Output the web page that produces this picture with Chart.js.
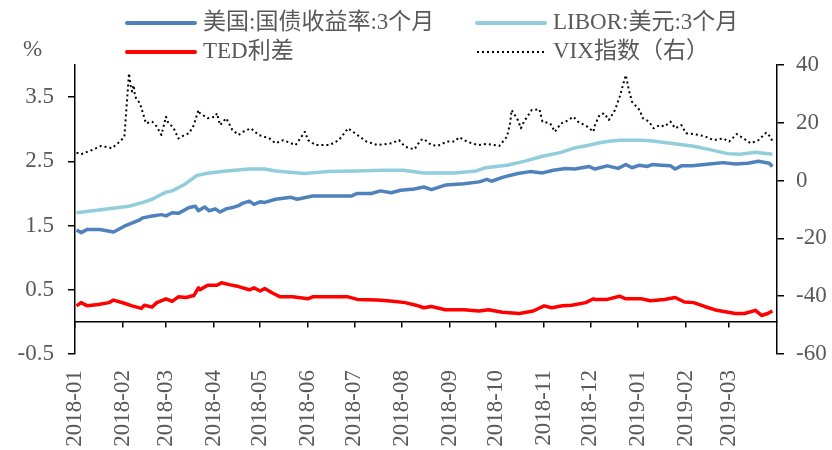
<!DOCTYPE html>
<html><head><meta charset="utf-8">
<script src="https://cdn.jsdelivr.net/npm/chart.js@4.4.1/dist/chart.umd.min.js"></script>
<style>html,body{margin:0;padding:0;background:#fff}#wrap{width:832px;height:450px}</style>
</head><body><div id="wrap"><canvas id="c" width="832" height="450"></canvas></div>
<script>
// ---- data ----
const monthLabels = ['2018-01','2018-02','2018-03','2018-04','2018-05','2018-06','2018-07','2018-08','2018-09','2018-10','2018-11','2018-12','2019-01','2019-02','2019-03'];
const leftTicks = [-0.5, 0.5, 1.5, 2.5, 3.5];
const rightTicks = [-60, -40, -20, 0, 20, 40];

const tsyDates = ['2018-01-02','2018-01-05','2018-01-09','2018-01-17','2018-01-26','2018-02-02','2018-02-12','2018-02-14','2018-02-20','2018-02-26','2018-03-01','2018-03-05','2018-03-09','2018-03-16','2018-03-20','2018-03-22','2018-03-26','2018-03-29','2018-04-02','2018-04-05','2018-04-09','2018-04-13','2018-04-17','2018-04-20','2018-04-24','2018-04-27','2018-05-01','2018-05-04','2018-05-11','2018-05-21','2018-05-25','2018-06-04','2018-06-14','2018-06-29','2018-07-03','2018-07-12','2018-07-18','2018-07-25','2018-07-31','2018-08-09','2018-08-15','2018-08-20','2018-08-29','2018-09-10','2018-09-20','2018-09-25','2018-09-28','2018-10-05','2018-10-15','2018-10-23','2018-10-31','2018-11-07','2018-11-15','2018-11-21','2018-11-30','2018-12-04','2018-12-12','2018-12-19','2018-12-24','2018-12-28','2019-01-02','2019-01-07','2019-01-10','2019-01-16','2019-01-22','2019-01-25','2019-01-29','2019-02-05','2019-02-13','2019-02-25','2019-03-05','2019-03-13','2019-03-20','2019-03-27','2019-03-29'];
const tsyValues = [1.43,1.39,1.44,1.44,1.40,1.49,1.59,1.62,1.65,1.67,1.65,1.70,1.69,1.78,1.80,1.73,1.79,1.73,1.76,1.71,1.76,1.78,1.81,1.85,1.88,1.83,1.87,1.86,1.91,1.94,1.91,1.96,1.96,1.96,2.00,2.00,2.04,2.01,2.05,2.07,2.10,2.06,2.13,2.15,2.18,2.22,2.19,2.25,2.31,2.34,2.32,2.36,2.39,2.38,2.42,2.38,2.43,2.39,2.45,2.40,2.44,2.42,2.45,2.44,2.43,2.38,2.43,2.43,2.45,2.48,2.46,2.47,2.50,2.47,2.42];

const liborDates = ['2018-01-02','2018-01-19','2018-02-05','2018-02-14','2018-02-20','2018-03-01','2018-03-05','2018-03-13','2018-03-21','2018-03-29','2018-04-09','2018-04-24','2018-05-04','2018-05-11','2018-05-30','2018-06-14','2018-07-02','2018-07-20','2018-08-02','2018-08-15','2018-09-04','2018-09-18','2018-09-24','2018-10-08','2018-10-19','2018-10-31','2018-11-12','2018-11-21','2018-11-30','2018-12-07','2018-12-12','2018-12-20','2019-01-02','2019-01-09','2019-01-22','2019-02-05','2019-02-15','2019-02-28','2019-03-08','2019-03-18','2019-03-29'];
const liborValues = [1.70,1.75,1.80,1.86,1.91,2.02,2.04,2.14,2.28,2.32,2.35,2.38,2.38,2.35,2.31,2.34,2.35,2.36,2.36,2.32,2.32,2.35,2.40,2.44,2.50,2.58,2.64,2.71,2.75,2.79,2.81,2.83,2.83,2.82,2.78,2.74,2.69,2.62,2.61,2.64,2.61];

const tedDates = ['2018-01-02','2018-01-05','2018-01-09','2018-01-16','2018-01-23','2018-01-26','2018-02-02','2018-02-07','2018-02-13','2018-02-15','2018-02-20','2018-02-23','2018-03-01','2018-03-05','2018-03-09','2018-03-14','2018-03-19','2018-03-22','2018-03-23','2018-03-28','2018-04-03','2018-04-06','2018-04-11','2018-04-17','2018-04-24','2018-04-27','2018-05-01','2018-05-04','2018-05-09','2018-05-14','2018-05-22','2018-06-01','2018-06-04','2018-06-13','2018-06-27','2018-07-03','2018-07-16','2018-07-26','2018-08-03','2018-08-10','2018-08-15','2018-08-20','2018-08-29','2018-09-10','2018-09-20','2018-09-26','2018-10-05','2018-10-16','2018-10-25','2018-11-01','2018-11-06','2018-11-13','2018-11-19','2018-11-28','2018-12-03','2018-12-04','2018-12-12','2018-12-20','2018-12-24','2019-01-03','2019-01-09','2019-01-18','2019-01-25','2019-01-31','2019-02-06','2019-02-13','2019-02-21','2019-03-05','2019-03-11','2019-03-18','2019-03-22','2019-03-26','2019-03-29'];
const tedValues = [0.25,0.30,0.25,0.27,0.30,0.34,0.29,0.25,0.21,0.26,0.23,0.30,0.36,0.32,0.39,0.38,0.41,0.53,0.50,0.57,0.57,0.61,0.58,0.55,0.50,0.53,0.48,0.52,0.45,0.39,0.39,0.36,0.39,0.39,0.39,0.35,0.34,0.32,0.30,0.26,0.22,0.24,0.19,0.19,0.17,0.19,0.15,0.13,0.17,0.25,0.22,0.25,0.26,0.30,0.36,0.35,0.35,0.40,0.36,0.36,0.33,0.35,0.38,0.31,0.30,0.24,0.18,0.13,0.13,0.18,0.10,0.13,0.17];

const vixDates = ['2018-01-02','2018-01-05','2018-01-12','2018-01-18','2018-01-25','2018-01-31','2018-02-02','2018-02-05','2018-02-06','2018-02-07','2018-02-08','2018-02-09','2018-02-12','2018-02-14','2018-02-16','2018-02-20','2018-02-23','2018-02-26','2018-03-01','2018-03-02','2018-03-06','2018-03-09','2018-03-13','2018-03-16','2018-03-19','2018-03-22','2018-03-23','2018-03-28','2018-04-02','2018-04-03','2018-04-05','2018-04-09','2018-04-13','2018-04-17','2018-04-20','2018-04-25','2018-04-30','2018-05-07','2018-05-11','2018-05-16','2018-05-24','2018-05-30','2018-06-01','2018-06-06','2018-06-15','2018-06-21','2018-06-27','2018-07-03','2018-07-09','2018-07-16','2018-07-25','2018-07-30','2018-08-03','2018-08-09','2018-08-13','2018-08-15','2018-08-20','2018-08-24','2018-08-30','2018-09-04','2018-09-07','2018-09-12','2018-09-19','2018-09-25','2018-10-03','2018-10-08','2018-10-10','2018-10-11','2018-10-15','2018-10-17','2018-10-19','2018-10-24','2018-10-29','2018-10-31','2018-11-05','2018-11-08','2018-11-12','2018-11-15','2018-11-20','2018-11-23','2018-11-29','2018-12-03','2018-12-04','2018-12-06','2018-12-07','2018-12-10','2018-12-13','2018-12-17','2018-12-20','2018-12-24','2018-12-26','2018-12-28','2019-01-02','2019-01-04','2019-01-08','2019-01-11','2019-01-15','2019-01-18','2019-01-22','2019-01-25','2019-01-29','2019-02-01','2019-02-06','2019-02-13','2019-02-19','2019-02-25','2019-03-01','2019-03-06','2019-03-12','2019-03-15','2019-03-20','2019-03-25','2019-03-28','2019-03-29'];
const vixValues = [9.7,9.1,10.6,12.0,11.2,14.0,15.2,37.1,33.0,30.8,33.0,29.0,26.8,23.4,19.8,20.4,18.7,15.8,22.1,20.4,18.1,14.6,15.8,16.4,19.2,24.4,23.3,21.6,22.1,23.3,19.2,21.6,17.5,15.8,16.9,18.1,15.8,14.6,12.9,14.0,12.3,16.9,14.0,12.3,12.3,14.0,18.1,15.8,13.5,12.3,12.9,14.0,11.7,10.8,14.0,14.4,12.3,12.0,13.5,13.5,15.0,13.5,12.3,12.7,12.0,15.2,19.8,24.4,21.0,18.1,20.4,24.4,24.7,20.4,19.8,16.9,19.8,20.4,22.1,20.4,18.7,16.9,19.2,21.6,22.7,23.3,21.0,24.4,29.0,36.5,31.3,27.3,24.4,21.6,20.4,18.1,19.2,18.7,20.4,18.1,19.2,16.4,16.1,15.4,14.0,14.6,13.5,16.1,14.0,12.9,14.0,16.6,15.0,13.5];

// ---- helpers ----
const BASE = Date.UTC(2018, 0, 1);
function dayNum(s) {
  const p = s.split('-').map(Number);
  return (Date.UTC(p[0], p[1] - 1, p[2] || 1) - BASE) / 86400000;
}
function pts(dates, vals) { return dates.map((d, i) => ({ x: dayNum(d), y: vals[i] })); }
const monthPos = monthLabels.map(dayNum);
const xMax = dayNum('2019-04-01');

const SERIF = '"Liberation Serif", "Times New Roman", "Noto Sans CJK SC", serif';
const GREY = '#595959';
const tickFont = { family: SERIF, size: 23 };

const legendItems = [
  { text: '美国:国债收益率:3个月', color: '#4F81BD', dash: [], width: 4, x: 127, y: 23 },
  { text: 'LIBOR:美元:3个月', color: '#92CDDC', dash: [], width: 4, x: 477, y: 23 },
  { text: 'TED利差', color: '#FF0000', dash: [], width: 4, x: 127, y: 52 },
  { text: 'VIX指数（右）', color: '#000000', dash: [2, 3], width: 2, x: 477, y: 52 }
];

const overlay = {
  id: 'overlay',
  afterDraw(chart) {
    const ctx = chart.ctx;
    ctx.save();
    legendItems.forEach(it => {
      ctx.beginPath();
      ctx.strokeStyle = it.color;
      ctx.lineWidth = it.width;
      ctx.setLineDash(it.dash);
      ctx.lineCap = it.dash.length ? 'butt' : 'round';
      ctx.moveTo(it.x, it.y);
      ctx.lineTo(it.x + 68, it.y);
      ctx.stroke();
      ctx.setLineDash([]);
      ctx.fillStyle = GREY;
      ctx.font = '23px ' + SERIF;
      ctx.textBaseline = 'middle';
      ctx.textAlign = 'left';
      ctx.fillText(it.text, it.x + 76, it.y);
    });
    ctx.fillStyle = GREY;
    ctx.font = '23px ' + SERIF;
    ctx.textBaseline = 'middle';
    ctx.fillText('%', 23, 50);
    ctx.restore();
  }
};

new Chart(document.getElementById('c'), {
  type: 'line',
  data: {
    datasets: [
      { label: '美国:国债收益率:3个月', data: pts(tsyDates, tsyValues), borderColor: '#4F81BD', borderWidth: 3.5, yAxisID: 'y' },
      { label: 'LIBOR:美元:3个月', data: pts(liborDates, liborValues), borderColor: '#92CDDC', borderWidth: 3.5, yAxisID: 'y' },
      { label: 'TED利差', data: pts(tedDates, tedValues), borderColor: '#FF0000', borderWidth: 3.5, yAxisID: 'y' },
      { label: 'VIX指数（右）', data: pts(vixDates, vixValues), borderColor: '#000000', borderWidth: 2, borderDash: [2, 3], yAxisID: 'y1' }
    ]
  },
  options: {
    responsive: false,
    animation: false,
    devicePixelRatio: 1,
    layout: { padding: { top: 65, left: 0, right: 0, bottom: 0 } },
    elements: { point: { radius: 0 }, line: { tension: 0, borderJoinStyle: 'round' } },
    plugins: { legend: { display: false }, tooltip: { enabled: false } },
    scales: {
      x: {
        type: 'linear', position: 'bottom', min: 0, max: xMax,
        grid: { display: false, drawTicks: false },
        border: { display: false },
        afterBuildTicks: s => { s.ticks = monthPos.map(v => ({ value: v })); },
        afterFit: s => { s.height = 96; },
        ticks: {
          autoSkip: false, maxRotation: 90, minRotation: 90, padding: 16,
          color: GREY, font: tickFont,
          callback: (v) => { const i = monthPos.indexOf(v); return i >= 0 ? monthLabels[i] : ''; }
        }
      },
      x2: {
        type: 'linear', axis: 'x', position: { y: 0 }, min: 0, max: xMax,
        grid: { display: true, drawOnChartArea: false, drawTicks: true, tickLength: 5, color: '#000', lineWidth: 1.5 },
        border: { display: true, color: '#000', width: 1.5 },
        afterBuildTicks: s => { s.ticks = monthPos.map(v => ({ value: v })); },
        ticks: { display: false }
      },
      y: {
        position: 'left', min: -0.5, max: 4.0,
        afterBuildTicks: s => { s.ticks = leftTicks.map(v => ({ value: v })); },
        afterFit: s => { s.width = 75; },
        grid: { display: true, drawOnChartArea: false, tickLength: 7, color: '#000', lineWidth: 1.5 },
        border: { display: true, color: '#000', width: 1.5 },
        ticks: { color: GREY, font: tickFont, padding: 14, callback: v => v.toFixed(1) }
      },
      y1: {
        position: 'right', min: -60, max: 40,
        afterBuildTicks: s => { s.ticks = rightTicks.map(v => ({ value: v })); },
        afterFit: s => { s.width = 55; },
        grid: { display: true, drawOnChartArea: false, tickLength: 7, color: '#000', lineWidth: 1.5 },
        border: { display: true, color: '#000', width: 1.5 },
        ticks: { color: GREY, font: tickFont, padding: 12, callback: v => String(v) }
      }
    }
  },
  plugins: [overlay]
});
</script>
</body></html>
